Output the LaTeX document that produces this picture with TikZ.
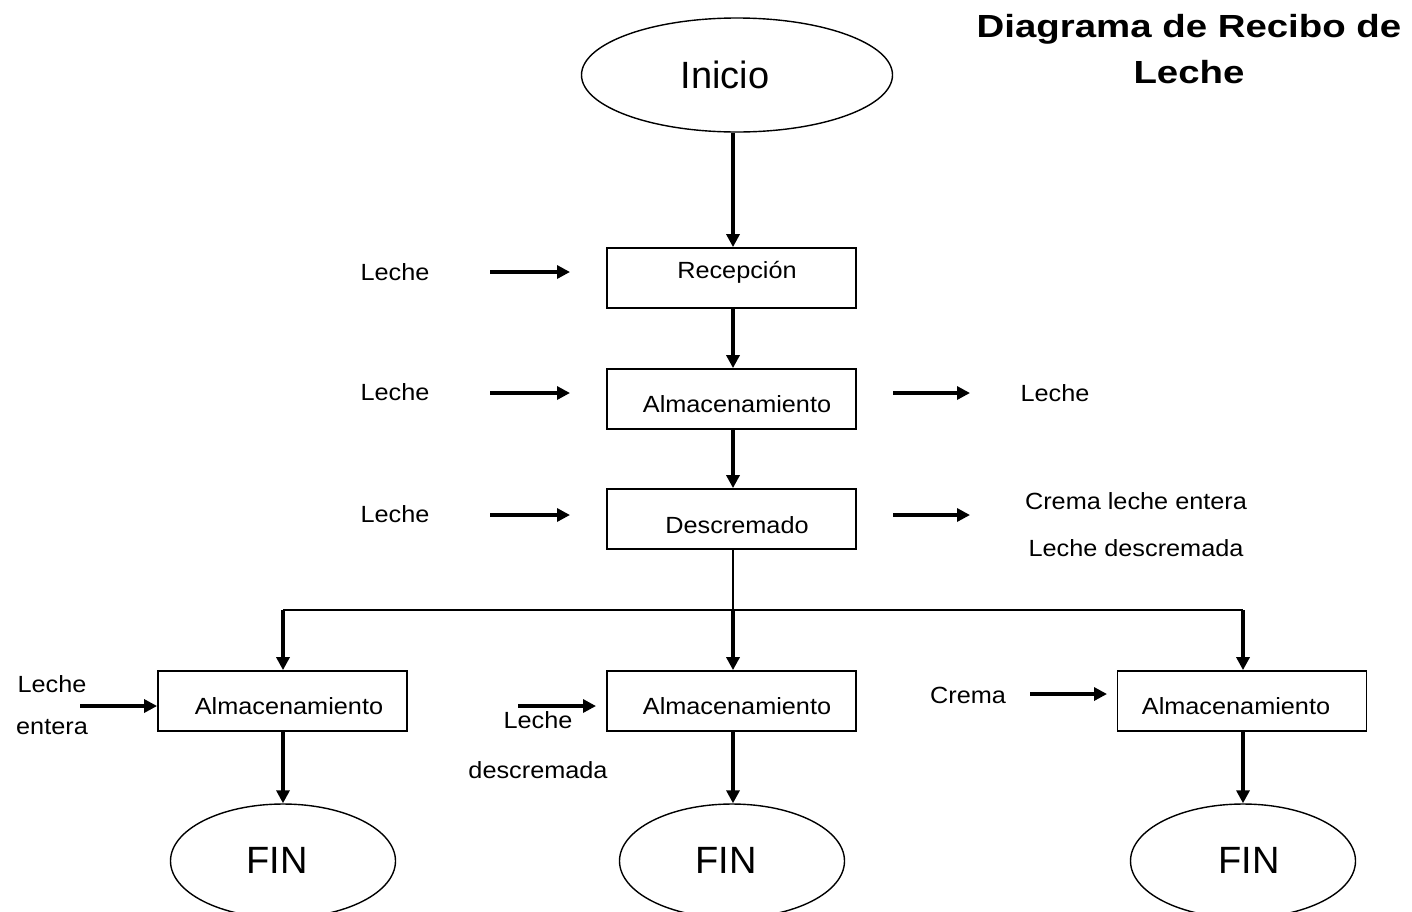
\documentclass[tikz,border=0pt]{standalone}
\usepackage{fontspec}
\setmainfont{Liberation Sans}
\usepackage{graphicx}
\usetikzlibrary{shapes.geometric,arrows.meta}
\newcommand{\hs}[1]{\scalebox{1.08}[1]{#1}}
\tikzset{
  procbox/.style={draw, line width=1.8pt, minimum width=249pt, minimum height=60pt, inner sep=0pt},
  term/.style={draw, ellipse, line width=1.4pt, inner sep=0pt},
  lbl/.style={inner sep=0pt, font=\fontsize{23.4}{27}\selectfont},
  big/.style={inner sep=0pt, font=\fontsize{38}{42}\selectfont},
  flow/.style={line width=3.2pt, -{Triangle[length=13pt,width=13pt]}},
  thin/.style={line width=1.6pt}
}
\begin{document}
\begin{tikzpicture}[x=1pt,y=-1pt]
\clip (0,0) rectangle (1412,911);
\fill[white] (0,0) rectangle (1412,911);

% title
\node[inner sep=0pt, font=\bfseries\fontsize{32}{36}\selectfont] (t1) at (1189,29) {\scalebox{1.2}[1]{Diagrama de Recibo de}};
\node[inner sep=0pt, font=\bfseries\fontsize{32}{36}\selectfont] (t2) at (1189,72) {\scalebox{1.2}[1]{Leche}};

% start
\node[term, minimum width=311pt, minimum height=114pt] (ini) at (737,75) {};
\node[big] (initxt) at (725,75) {Inicio};

% main boxes
\node[procbox] (rec) at (731.5,278) {};
\node[lbl] (rectxt) at (737,272) {\hs{Recepción}};
\node[procbox] (alm) at (731.5,399) {};
\node[lbl] (almtxt) at (737,404) {\hs{Almacenamiento}};
\node[procbox] (des) at (731.5,519) {};
\node[lbl] (destxt) at (737,525) {\hs{Descremado}};

% bottom boxes
\node[procbox] (b1) at (282.5,701) {};
\node[lbl] (b1txt) at (289,706) {\hs{Almacenamiento}};
\node[procbox] (b2) at (731.5,701) {};
\node[lbl] (b2txt) at (737,706) {\hs{Almacenamiento}};
\node[procbox] (b3) at (1242,701) {};
\node[lbl] (b3txt) at (1236,706) {\hs{Almacenamiento}};

% end ellipses
\node[term, minimum width=225pt, minimum height=114pt] (f1) at (283,861) {};
\node[big] (f1txt) at (277,860) {FIN};
\node[term, minimum width=225pt, minimum height=114pt] (f2) at (732,861) {};
\node[big] (f2txt) at (726,860) {FIN};
\node[term, minimum width=225pt, minimum height=114pt] (f3) at (1243,861) {};
\node[big] (f3txt) at (1249,860) {FIN};

% main flow
\draw[flow] (ini.south -| 733,0) -- (rec.north -| 733,0);
\draw[flow] (rec.south -| 733,0) -- (alm.north -| 733,0);
\draw[flow] (alm.south -| 733,0) -- (des.north -| 733,0);

% split
\coordinate (sp) at (733,610);
\coordinate (spl) at (283,610);
\coordinate (spr) at (1243,610);
\draw[thin] (des.south -| sp) -- (sp);
\draw[thin] (spl) -- (spr);
\draw[flow] (spl) -- (b1.north -| spl);
\draw[flow] (sp) -- (b2.north -| sp);
\draw[flow] (spr) -- (b3.north -| spr);

% to ends
\draw[flow] (b1.south -| 283,0) -- (f1.north -| 283,0);
\draw[flow] (b2.south -| 733,0) -- (f2.north -| 733,0);
\draw[flow] (b3.south -| 1243,0) -- (f3.north -| 1243,0);

% side inputs
\node[lbl] (in1) at (395,272) {\hs{Leche}};
\coordinate (a1s) at (490,272); \coordinate (a1e) at (570,272);
\draw[flow] (a1s) -- (a1e);
\node[lbl] (in2) at (395,392) {\hs{Leche}};
\coordinate (a2s) at (490,393); \coordinate (a2e) at (570,393);
\draw[flow] (a2s) -- (a2e);
\node[lbl] (in3) at (395,514) {\hs{Leche}};
\coordinate (a3s) at (490,515); \coordinate (a3e) at (570,515);
\draw[flow] (a3s) -- (a3e);

% side outputs
\coordinate (o1s) at (893,393); \coordinate (o1e) at (970,393);
\draw[flow] (o1s) -- (o1e);
\node[lbl] (out1) at (1055,393) {\hs{Leche}};
\coordinate (o2s) at (893,515); \coordinate (o2e) at (970,515);
\draw[flow] (o2s) -- (o2e);
\node[lbl] (out2a) at (1136,501) {\hs{Crema leche entera}};
\node[lbl] (out2b) at (1136,548) {\hs{Leche descremada}};

% bottom inputs
\node[lbl] (l1a) at (52,684) {\hs{Leche}};
\node[lbl] (l1b) at (52,727) {\hs{entera}};
\coordinate (l1s) at (80,706);
\draw[flow] (l1s) -- (b1.west |- l1s);

\coordinate (l2s) at (518,706); \coordinate (l2e) at (596,706);
\draw[flow] (l2s) -- (l2e);
\node[lbl] (l2a) at (538,720) {\hs{Leche}};
\node[lbl] (l2b) at (538,770) {\hs{descremada}};

\node[lbl] (l3) at (968,695) {\hs{Crema}};
\coordinate (l3s) at (1030,694); \coordinate (l3e) at (1107,694);
\draw[flow] (l3s) -- (l3e);
\end{tikzpicture}
\end{document}
